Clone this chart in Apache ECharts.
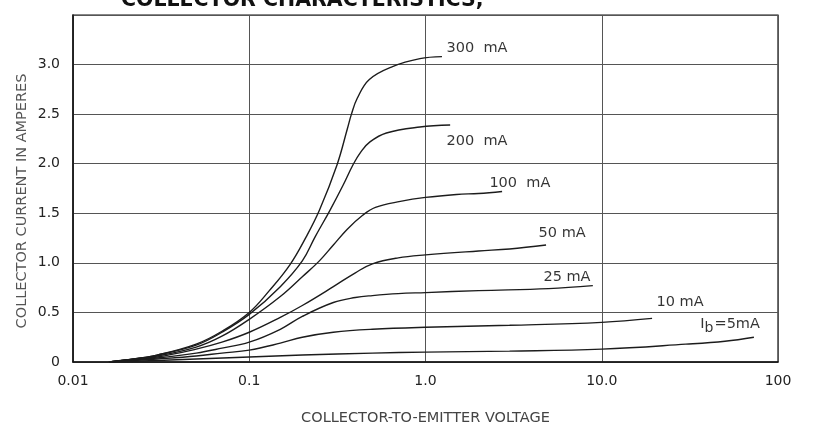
<!DOCTYPE html>
<html>
<head>
<meta charset="utf-8">
<script src="https://cdn.jsdelivr.net/npm/echarts@6/dist/echarts.min.js"></script>
<style>
  html, body { margin: 0; padding: 0; background: #fff; }
  #chart { width: 817px; height: 428px; }
</style>
</head>
<body>
<div id="chart"></div>
<script>
// tick labels
const xTicks = ['0.01', '0.1', '1.0', '10.0', '100'];
const yTicks = ['0', '0.5', '1.0', '1.5', '2.0', '2.5', '3.0', ''];

// collector current (A) vs collector-emitter voltage (V), one array per base current
const ib300 = [[0.016, 0], [0.02, 0.02], [0.03, 0.07], [0.05, 0.18], [0.07, 0.31], [0.1, 0.5], [0.13, 0.72], [0.17, 0.98], [0.21, 1.26], [0.25, 1.53], [0.315, 1.99], [0.36, 2.35], [0.38, 2.5], [0.41, 2.66], [0.48, 2.85], [0.65, 2.98], [0.93, 3.06], [1.24, 3.08]];
const ib200 = [[0.016, 0], [0.02, 0.02], [0.03, 0.07], [0.05, 0.17], [0.07, 0.3], [0.1, 0.48], [0.15, 0.76], [0.2, 1.02], [0.236, 1.26], [0.287, 1.53], [0.34, 1.78], [0.388, 1.99], [0.43, 2.12], [0.484, 2.22], [0.6, 2.31], [0.93, 2.37], [1.38, 2.39]];
const ib100 = [[0.016, 0], [0.02, 0.02], [0.03, 0.06], [0.05, 0.15], [0.07, 0.26], [0.1, 0.43], [0.15, 0.66], [0.2, 0.86], [0.25, 1.02], [0.3, 1.18], [0.36, 1.34], [0.44, 1.48], [0.52, 1.56], [0.72, 1.62], [1.0, 1.66], [1.5, 1.69], [2.0, 1.7], [2.72, 1.72]];
const ib50 = [[0.016, 0], [0.02, 0.02], [0.03, 0.05], [0.05, 0.13], [0.07, 0.2], [0.1, 0.3], [0.15, 0.45], [0.2, 0.57], [0.3, 0.76], [0.4, 0.9], [0.5, 0.99], [0.7, 1.05], [1.0, 1.08], [2.0, 1.12], [3.0, 1.14], [4.83, 1.18]];
const ib25 = [[0.016, 0], [0.02, 0.015], [0.03, 0.04], [0.05, 0.09], [0.07, 0.14], [0.1, 0.2], [0.15, 0.33], [0.2, 0.46], [0.3, 0.6], [0.4, 0.65], [0.5, 0.67], [0.7, 0.69], [1.0, 0.7], [2.0, 0.72], [5.0, 0.74], [8.9, 0.77]];
const ib10 = [[0.016, 0], [0.02, 0.01], [0.03, 0.03], [0.05, 0.06], [0.07, 0.09], [0.1, 0.12], [0.15, 0.19], [0.2, 0.25], [0.3, 0.3], [0.5, 0.33], [1.0, 0.35], [3.0, 0.37], [10, 0.4], [19.3, 0.44]];
const ib5 = [[0.016, 0], [0.02, 0.005], [0.03, 0.015], [0.05, 0.03], [0.1, 0.05], [0.2, 0.07], [0.5, 0.09], [1.0, 0.1], [3.0, 0.11], [10, 0.13], [30, 0.18], [50, 0.21], [73, 0.25]];

const curveNames = ['300 mA', '200 mA', '100 mA', '50 mA', '25 mA', '10 mA', '5 mA'];
const curveData = [ib300, ib200, ib100, ib50, ib25, ib10, ib5];

// where each curve label sits, in data units
const labelAnchors = [[1.96, 3.16], [1.96, 2.23], [3.43, 1.8], [5.96, 1.3], [6.35, 0.86], [27.8, 0.6], [53.5, 0.38]];
const labelTexts = ['300  mA', '200  mA', '100  mA', '50 mA', '25 mA', '10 mA', '{i|I}{s|b}{t|=5mA}'];

const chart = echarts.init(document.getElementById('chart'));
const font = 'DejaVu Sans';

const series = curveData.map((d, i) => ({
  name: curveNames[i],
  type: 'line',
  data: d,
  smooth: 0.4,
  symbol: 'none',
  silent: true,
  lineStyle: { color: '#1c1c1c', width: 1.4 }
}));

series.push({
  type: 'scatter',
  data: labelAnchors,
  symbolSize: 0,
  silent: true,
  label: {
    show: true,
    position: 'inside',
    color: '#000',
    fontFamily: font,
    fontSize: 14.5,
    formatter: p => labelTexts[p.dataIndex],
    rich: {
      i: { fontFamily: font, fontSize: 14.5, color: '#000' },
      s: { fontFamily: font, fontSize: 14, color: '#000', padding: [9, 1, 0, 0] },
      t: { fontFamily: font, fontSize: 14.5, color: '#000' }
    }
  }
});

const option = {
  animation: false,
  backgroundColor: '#fff',
  title: {
    text: 'COLLECTOR CHARACTERISTICS,',
    left: 116,
    top: -15,
    textStyle: { fontFamily: font, fontSize: 20.5, fontWeight: 'bold', color: '#111' }
  },
  // y axis title, placed by hand so it sits where the original has it
  graphic: [{
    type: 'text',
    x: 22,
    y: 201,
    rotation: Math.PI / 2,
    style: {
      text: 'COLLECTOR CURRENT IN AMPERES',
      fontFamily: font,
      fontSize: 14.5,
      fill: '#555',
      align: 'center',
      verticalAlign: 'middle'
    }
  }],
  grid: {
    left: 73, right: 39, top: 15, bottom: 66,
    outerBoundsMode: 'none',
    show: true, borderColor: '#111', borderWidth: 1.2
  },
  xAxis: {
    type: 'log',
    logBase: 10,
    min: 0.01,
    max: 100,
    name: 'COLLECTOR-TO-EMITTER VOLTAGE',
    nameLocation: 'middle',
    nameGap: 49,
    nameTextStyle: { fontFamily: font, fontSize: 14.5, color: '#444' },
    axisLine: { lineStyle: { color: '#111', width: 1.5 } },
    axisTick: { show: false },
    axisLabel: {
      margin: 12,
      fontFamily: font,
      fontSize: 14,
      color: '#222',
      formatter: (v, i) => xTicks[i]
    },
    splitLine: { show: true, lineStyle: { color: '#555', width: 1 } }
  },
  yAxis: {
    type: 'value',
    min: 0,
    max: 3.5,
    interval: 0.5,
    axisLine: { show: true, lineStyle: { color: '#111', width: 1.5 } },
    axisTick: { show: false },
    axisLabel: {
      margin: 13,
      fontFamily: font,
      fontSize: 14,
      color: '#222',
      formatter: (v, i) => yTicks[i]
    },
    splitLine: { show: true, lineStyle: { color: '#555', width: 1 } }
  },
  series: series
};

chart.setOption(option);
</script>
</body>
</html>
